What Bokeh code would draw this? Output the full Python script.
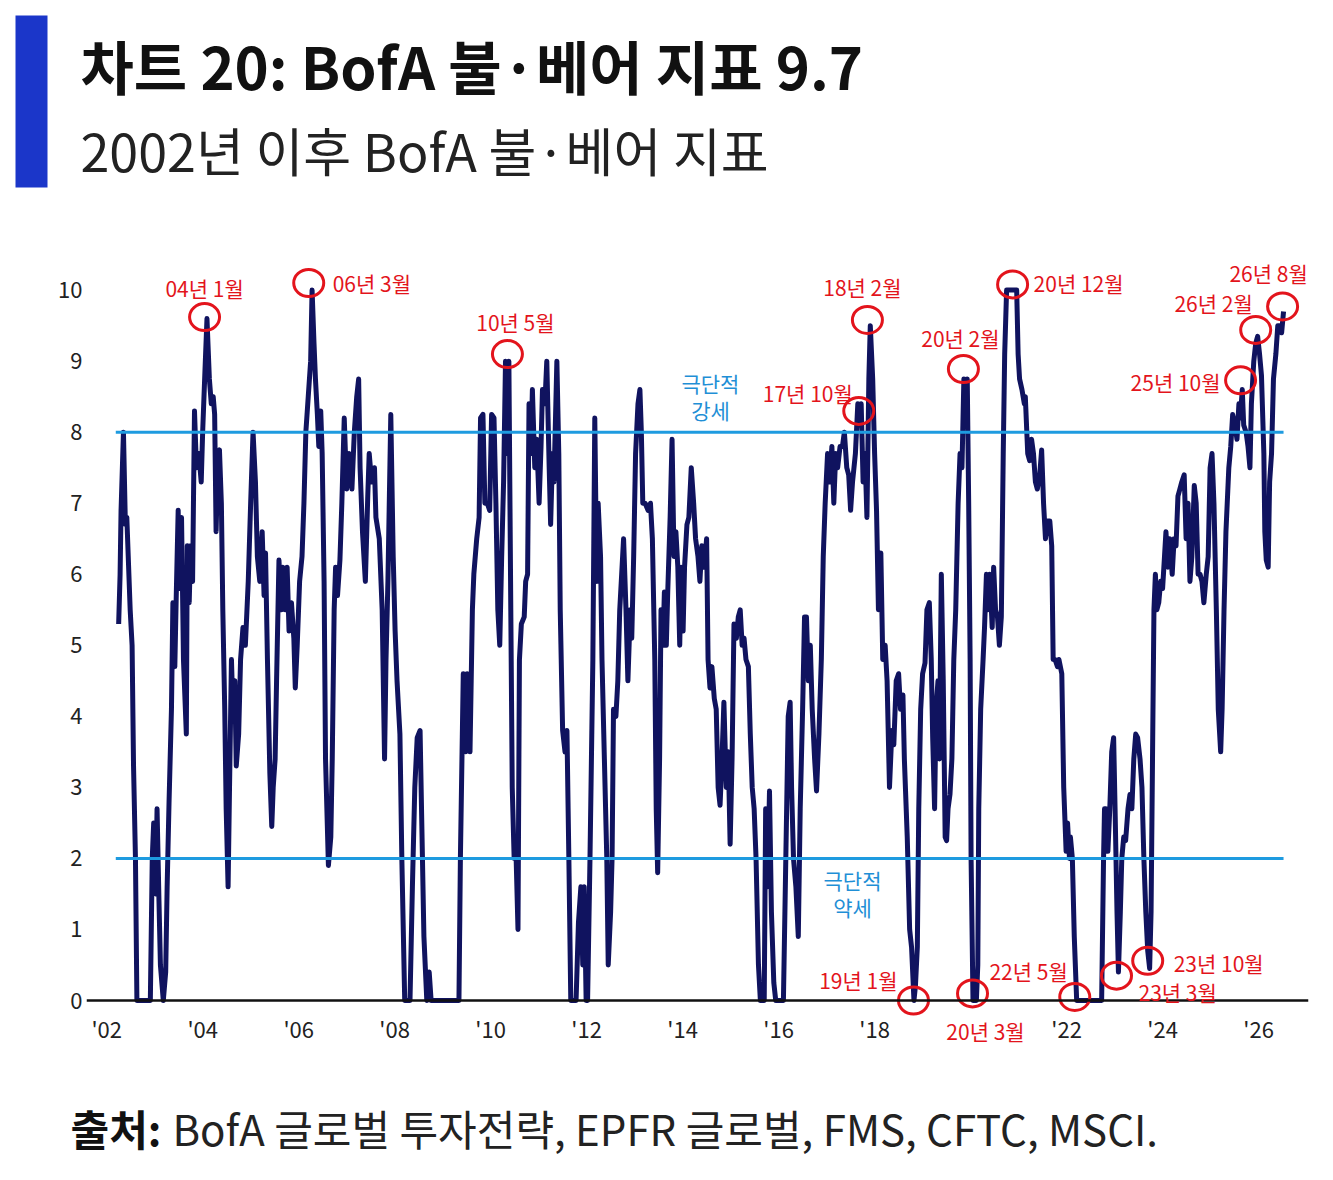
from bokeh.plotting import figure
from bokeh.layouts import column
from bokeh.models import ColumnDataSource, Range1d, FixedTicker, LabelSet, Span
from bokeh.core.properties import value, field
from bokeh.embed import file_html
from bokeh.resources import INLINE

# BofA 불·베어 지표 (읽어낸 값, 날짜는 연 단위 소수)
dates = [
    2002.25, 2002.28, 2002.30, 2002.35, 2002.39, 2002.42, 2002.49, 2002.53, 2002.56, 2002.60,
    2002.63, 2002.91, 2002.95, 2002.98, 2003.02, 2003.05, 2003.09, 2003.12, 2003.18, 2003.23,
    2003.26, 2003.30, 2003.35, 2003.38, 2003.42, 2003.45, 2003.49, 2003.52, 2003.56, 2003.60,
    2003.66, 2003.68, 2003.72, 2003.75, 2003.79, 2003.83, 2003.87, 2003.92, 2003.97, 2004.00,
    2004.05, 2004.09, 2004.14, 2004.18, 2004.22, 2004.25, 2004.28, 2004.32, 2004.35, 2004.39,
    2004.42, 2004.46, 2004.49, 2004.53, 2004.56, 2004.60, 2004.63, 2004.67, 2004.70, 2004.75,
    2004.79, 2004.84, 2004.89, 2004.95, 2005.00, 2005.05, 2005.10, 2005.14, 2005.19, 2005.24,
    2005.28, 2005.31, 2005.35, 2005.40, 2005.44, 2005.47, 2005.51, 2005.54, 2005.59, 2005.64,
    2005.67, 2005.72, 2005.76, 2005.80, 2005.85, 2005.90, 2005.93, 2005.97, 2006.02, 2006.07,
    2006.11, 2006.15, 2006.20, 2006.25, 2006.28, 2006.32, 2006.35, 2006.39, 2006.42, 2006.46,
    2006.49, 2006.53, 2006.56, 2006.62, 2006.67, 2006.70, 2006.74, 2006.77, 2006.81, 2006.86,
    2006.90, 2006.95, 2007.00, 2007.05, 2007.11, 2007.16, 2007.21, 2007.25, 2007.28, 2007.33,
    2007.39, 2007.44, 2007.47, 2007.52, 2007.58, 2007.61, 2007.68, 2007.74, 2007.79, 2007.82,
    2007.86, 2007.92, 2007.97, 2008.01, 2008.05, 2008.11, 2008.15, 2008.21, 2008.32, 2008.37,
    2008.42, 2008.47, 2008.53, 2008.56, 2008.61, 2008.67, 2008.72, 2008.76,
    2009.34, 2009.37, 2009.43, 2009.48, 2009.51, 2009.57, 2009.62, 2009.65, 2009.71, 2009.76,
    2009.79, 2009.84, 2009.88, 2009.93, 2009.98, 2010.02, 2010.07, 2010.11, 2010.15, 2010.19,
    2010.23, 2010.27, 2010.31, 2010.35, 2010.38, 2010.42, 2010.45, 2010.49, 2010.52, 2010.57,
    2010.60, 2010.64, 2010.70, 2010.73, 2010.77, 2010.80, 2010.84, 2010.87, 2010.92, 2010.96,
    2011.01, 2011.05, 2011.08, 2011.13, 2011.17, 2011.22, 2011.25, 2011.29, 2011.32, 2011.38,
    2011.42, 2011.45, 2011.50, 2011.55, 2011.59, 2011.63, 2011.67, 2011.78, 2011.83, 2011.88,
    2011.92, 2011.95, 2011.99, 2012.02, 2012.07, 2012.13, 2012.17, 2012.21, 2012.24, 2012.29,
    2012.32, 2012.37, 2012.42, 2012.45, 2012.50, 2012.53, 2012.56, 2012.61, 2012.65, 2012.69,
    2012.73, 2012.77, 2012.82, 2012.86, 2012.91, 2012.94, 2012.98, 2013.02, 2013.07, 2013.11,
    2013.14, 2013.17, 2013.22, 2013.28, 2013.33, 2013.37, 2013.42, 2013.45, 2013.48, 2013.52,
    2013.55, 2013.59, 2013.62, 2013.66, 2013.69, 2013.74, 2013.78, 2013.82, 2013.86, 2013.90,
    2013.94, 2013.97, 2014.01, 2014.04, 2014.09, 2014.13, 2014.18, 2014.23, 2014.27, 2014.32,
    2014.36, 2014.40, 2014.45, 2014.50, 2014.53, 2014.57, 2014.61, 2014.66, 2014.70, 2014.74,
    2014.78, 2014.82, 2014.86, 2014.91, 2014.95, 2014.99, 2015.03, 2015.07, 2015.12, 2015.16,
    2015.20, 2015.24, 2015.28, 2015.32, 2015.37, 2015.41, 2015.45, 2015.49, 2015.53, 2015.58,
    2015.62, 2015.70, 2015.73, 2015.77, 2015.81, 2015.85, 2015.90, 2015.94, 2016.10, 2016.15,
    2016.20, 2016.24, 2016.27, 2016.31, 2016.36, 2016.41, 2016.45, 2016.50, 2016.54, 2016.58,
    2016.62, 2016.66, 2016.70, 2016.75, 2016.79, 2016.84, 2016.89, 2016.93, 2016.97, 2017.02,
    2017.06, 2017.11, 2017.15, 2017.19, 2017.23, 2017.28, 2017.33, 2017.37, 2017.42, 2017.46,
    2017.50, 2017.54, 2017.60, 2017.65, 2017.69, 2017.72, 2017.76, 2017.80, 2017.84, 2017.88,
    2017.91, 2017.96, 2018.00, 2018.04, 2018.08,
    2018.13, 2018.17, 2018.22, 2018.26, 2018.31, 2018.36, 2018.40, 2018.45, 2018.50, 2018.54,
    2018.59, 2018.62, 2018.68, 2018.73, 2018.77, 2018.82, 2018.85, 2018.89, 2018.92, 2018.96,
    2019.00, 2019.05, 2019.09, 2019.14, 2019.18, 2019.21, 2019.25, 2019.28, 2019.32, 2019.35,
    2019.39, 2019.43, 2019.47, 2019.50, 2019.53, 2019.57, 2019.61, 2019.65, 2019.69, 2019.74,
    2019.78, 2019.82, 2019.86, 2019.90, 2019.93, 2019.96, 2019.99, 2020.01, 2020.05, 2020.12,
    2020.15, 2020.17, 2020.21, 2020.26, 2020.29, 2020.33, 2020.36, 2020.40, 2020.45, 2020.48,
    2020.52, 2020.56, 2020.60, 2020.64, 2020.68, 2020.71, 2020.75, 2020.85, 2020.92, 2020.96,
    2020.99, 2021.02, 2021.07, 2021.12, 2021.14, 2021.19, 2021.23, 2021.27, 2021.31, 2021.35,
    2021.39, 2021.44, 2021.48, 2021.52, 2021.56, 2021.60, 2021.65, 2021.69, 2021.72, 2021.76,
    2021.81, 2021.84, 2021.90, 2021.94, 2021.99, 2022.02, 2022.06, 2022.08, 2022.12, 2022.16,
    2022.21, 2022.73, 2022.77, 2022.79, 2022.82, 2022.86, 2022.90, 2022.94, 2022.98, 2023.01,
    2023.05, 2023.08, 2023.12, 2023.15, 2023.19, 2023.23, 2023.28, 2023.32, 2023.36, 2023.40,
    2023.44, 2023.48, 2023.53, 2023.57, 2023.61, 2023.65, 2023.69, 2023.73, 2023.76, 2023.79,
    2023.82, 2023.85, 2023.88, 2023.92, 2023.96, 2024.00, 2024.04, 2024.07, 2024.11, 2024.15,
    2024.20, 2024.24, 2024.28, 2024.32, 2024.36, 2024.40, 2024.45, 2024.49, 2024.53, 2024.57,
    2024.61, 2024.66, 2024.70, 2024.74, 2024.78, 2024.82, 2024.86, 2024.91, 2024.95, 2024.99,
    2025.03, 2025.07, 2025.12, 2025.16, 2025.21, 2025.24, 2025.28, 2025.32, 2025.38, 2025.42,
    2025.46, 2025.51, 2025.55, 2025.59, 2025.62, 2025.66, 2025.69, 2025.74, 2025.78, 2025.82,
    2025.85, 2025.90, 2025.94, 2025.98, 2026.02, 2026.06, 2026.11, 2026.13, 2026.16, 2026.20,
    2026.23, 2026.27, 2026.31, 2026.36, 2026.40, 2026.44, 2026.48, 2026.52,
]
bull_bear = [
    5.3, 6.0, 6.9, 8.0, 6.7, 6.8, 5.5, 5.0, 3.3, 2.0,
    0.0, 0.0, 2.0, 2.5, 1.5, 2.7, 1.4, 0.5, 0.0, 0.4,
    1.6, 2.8, 4.1, 5.6, 4.7, 5.7, 6.9, 5.8, 6.8, 4.8,
    3.75, 6.4, 5.6, 6.4, 5.9, 8.3, 7.5, 7.7, 7.3, 8.0,
    8.9, 9.6, 8.75, 8.4, 8.5, 8.25, 6.6, 7.7, 7.75, 7.0,
    5.5, 4.1, 2.7, 1.6, 3.0, 4.8, 4.1, 4.5, 3.3, 3.75,
    4.8, 5.25, 5.0, 5.9, 7.0, 8.0, 7.3, 6.25, 5.9, 6.6,
    5.7, 6.3, 4.8, 3.2, 2.45, 3.0, 3.4, 4.5, 6.2, 5.5,
    6.1, 5.5, 6.1, 5.2, 5.6, 5.1, 4.4, 5.0, 5.9, 6.25,
    7.0, 8.0, 8.5, 9.0, 10.0, 9.25, 8.75, 8.25, 7.8, 8.3,
    7.7, 5.9, 3.4, 1.9, 2.3, 3.4, 5.5, 6.1, 5.7, 6.2,
    7.0, 8.2, 7.2, 7.7, 7.2, 8.0, 8.5, 8.75, 7.5, 6.6,
    5.9, 7.1, 7.7, 7.3, 7.5, 6.8, 6.5, 5.5, 3.4, 4.8,
    5.9, 8.25, 6.25, 5.2, 4.5, 3.75, 2.0, 0.0, 0.0, 1.6,
    3.0, 3.7, 3.8, 2.7, 0.9, 0.0, 0.4, 0.0,
    0.0, 2.0, 4.6, 3.5, 4.6, 3.5, 5.5, 6.0, 6.5, 6.8,
    8.2, 8.25, 7.0, 7.0, 6.9, 8.25, 8.2, 7.0, 5.5, 5.0,
    6.25, 7.3, 9.0, 7.7, 9.0, 5.5, 3.0, 2.0, 2.3, 1.0,
    4.8, 5.3, 5.4, 5.9, 6.0, 8.4, 7.7, 8.6, 7.5, 7.9,
    7.0, 7.8, 8.6, 8.4, 9.0, 7.5, 6.7, 7.7, 7.3, 9.0,
    7.7, 5.5, 3.8, 3.5, 3.8, 2.0, 0.0, 0.0, 1.1, 1.6,
    0.5, 1.6, 0.0, 0.0, 2.0, 4.8, 8.2, 5.9, 7.0, 6.25,
    4.8, 3.4, 2.0, 0.5, 1.25, 2.0, 4.1, 4.0, 4.5, 5.5,
    6.0, 6.5, 5.5, 4.5, 5.5, 5.1, 6.25, 7.7, 8.4, 8.6,
    8.0, 7.0, 7.0, 6.9, 7.0, 6.5, 4.8, 2.7, 1.8, 3.4,
    5.5, 5.0, 5.75, 5.0, 5.75, 6.8, 7.9, 6.25, 6.6, 6.1,
    5.0, 6.1, 5.2, 6.1, 6.7, 6.8, 7.5, 7.0, 6.5, 6.25,
    5.9, 6.4, 6.1, 6.5, 4.8, 4.4, 4.7, 4.25, 4.1, 3.0,
    2.75, 3.4, 4.2, 3.0, 3.5, 2.2, 3.4, 5.3, 5.1, 5.4,
    5.5, 5.0, 5.1, 4.8, 4.7, 3.75, 3.0, 2.7, 2.0, 0.5,
    0.0, 0.0, 2.7, 1.6, 2.95, 1.25, 0.25, 0.0, 0.0, 2.0,
    4.0, 4.2, 3.0, 2.0, 1.6, 0.9, 2.7, 4.1, 5.4, 5.4,
    4.5, 5.0, 4.1, 3.4, 2.95, 3.75, 4.8, 6.25, 7.0, 7.7,
    7.3, 7.8, 7.0, 7.7, 7.5, 7.8, 7.8, 8.0, 7.5, 7.4,
    6.9, 7.3, 7.7, 8.4, 8.1, 8.4, 7.3, 7.7, 6.8, 8.75,
    9.5, 8.75, 7.7, 6.9, 5.5,
    6.3, 4.8, 5.0, 4.5, 3.0, 3.8, 3.6, 4.5, 4.6, 4.1,
    4.3, 3.4, 2.3, 1.0, 0.75, 0.0, 0.2, 0.75, 2.7, 4.1,
    4.6, 4.75, 5.5, 5.6, 4.8, 3.7, 2.7, 4.1, 4.5, 3.4,
    6.0, 4.5, 2.3, 2.25, 2.7, 2.9, 3.4, 4.8, 5.5, 7.0,
    7.7, 7.5, 8.75, 8.2, 8.75, 7.0, 4.8, 2.0, 0.0, 0.0,
    0.5, 2.7, 4.1, 4.8, 5.25, 6.0, 5.5, 6.0, 5.25, 6.1,
    5.5, 5.4, 5.0, 5.4, 7.7, 9.1, 10.0, 10.0, 10.0, 10.0,
    9.1, 8.75, 8.6, 8.4, 8.5, 7.7, 7.6, 7.9, 7.7, 7.3,
    7.2, 7.4, 7.75, 7.0, 6.5, 6.75, 6.75, 6.4, 4.8, 4.8,
    4.7, 4.8, 4.6, 3.0, 2.1, 2.5, 2.0, 2.3, 2.0, 0.9,
    0.0, 0.0, 2.0, 2.7, 2.7, 2.1, 2.7, 3.5, 3.7, 2.7,
    1.25, 0.4, 1.25, 2.0, 2.3, 2.25, 2.7, 2.9, 2.7, 3.4,
    3.75, 3.7, 3.4, 3.0, 2.0, 1.25, 0.7, 0.45, 1.25, 3.4,
    5.5, 6.0, 5.5, 5.6, 5.9, 5.8, 6.25, 6.6, 6.1, 6.5,
    6.0, 6.5, 6.4, 7.1, 7.2, 7.3, 7.4, 6.5, 7.0, 5.9,
    6.25, 7.25, 7.0, 6.0, 6.0, 5.9, 5.6, 6.0, 6.25, 7.5,
    7.7, 7.0, 5.5, 4.1, 3.5, 4.1, 5.5, 6.6, 7.5, 7.8,
    8.25, 8.1, 7.9, 8.4, 8.2, 8.6, 8.1, 8.0, 7.8, 7.5,
    8.4, 9.0, 9.25, 9.35, 9.1, 8.8, 7.7, 6.6, 6.2, 6.1,
    7.3, 7.7, 8.75, 9.1, 9.5, 9.5, 9.4, 9.7,
]

thresholds = [8, 2]
threshold_dates = [2014.58, 2017.54]
threshold_values = [8.5, 1.5]
threshold_labels = ["극단적\n강세", "극단적\n약세"]

year_ticks = list(range(2002, 2027, 2))
year_labels = ["'02", "'04", "'06", "'08", "'10", "'12", "'14", "'16", "'18", "", "'22", "'24", "'26"]

ann_dates = [2004.04, 2006.21, 2010.35, 2017.67, 2017.85, 2018.81, 2019.85, 2020.04,
             2020.875, 2022.17, 2023.04, 2023.69, 2025.625, 2025.94, 2026.5]
ann_values = [9.62, 10.1, 9.1, 8.3, 9.58, 0.0, 8.89, 0.1,
              10.08, 0.05, 0.35, 0.56, 8.73, 9.44, 9.77]
ann_labels = ["04년 1월", "06년 3월", "10년 5월", "17년 10월", "18년 2월", "19년 1월", "20년 2월", "20년 3월",
              "20년 12월", "22년 5월", "23년 3월", "23년 10월", "25년 10월", "26년 2월", "26년 8월"]
# 라벨 위치 (원 중심에서 화면 픽셀, 오른쪽/위쪽이 +)
ann_dx = [0, 24, 8, -6, -5, -16, -3, 13, 21, -7, 22, 26, -20, -3, -14]
ann_dy = [29, 0, 32, 18, 33, 21, 31, -38, 1, 26, -16, -2, -2, 27, 33]
ann_align = ["center", "left", "center", "right", "center", "right", "center", "center",
             "left", "right", "left", "left", "right", "right", "center"]

title = "차트 20: BofA 불·베어 지표 9.7"
subtitle = "2002년 이후 BofA 불·베어 지표"
source_head = "출처:"
source_body = "BofA 글로벌 투자전략, EPFR 글로벌, FMS, CFTC, MSCI."

NAVY = "#10135f"
SKY = "#1e9be0"
SKY_TEXT = "#1f8fd6"
RED = "#e3141c"
BAR = "#1b36c9"
FONT = "Noto Sans CJK KR"
W = 1317


def blank(height):
    f = figure(width=W, height=height, output_backend="svg", toolbar_location=None,
               x_range=Range1d(0, W), y_range=Range1d(0, height),
               min_border=0, outline_line_color=None, frame_align=False)
    f.axis.visible = False
    f.grid.visible = False
    return f


# 제목 영역
head = blank(208)
head.quad(left=[15], right=[47], top=[193], bottom=[21], fill_color=BAR, line_color=None)
head.text([80], [144], text=[title], text_font=value(FONT), text_font_size="58px",
          text_font_style="bold", text_color="#111111", text_baseline="middle")
head.text([80], [59], text=[subtitle], text_font=value(FONT), text_font_size="52px",
          text_color="#222222", text_baseline="middle")

# 본 차트 (프레임을 0 아래로 조금 넓혀 아래쪽 표시가 잘리지 않게 함)
p = figure(width=W, height=856, output_backend="svg", toolbar_location=None,
           x_range=Range1d(2001.58, 2027.04), y_range=Range1d(-0.6475, 10.6),
           min_border_left=86, min_border_right=9, min_border_top=39, min_border_bottom=18,
           frame_align=False)
p.outline_line_color = None
p.xgrid.grid_line_color = None
p.ygrid.grid_line_color = None

p.xaxis.ticker = FixedTicker(ticks=year_ticks)
p.xaxis.major_label_overrides = {t: s for t, s in zip(year_ticks, year_labels)}
p.xaxis.axis_line_color = None
p.xaxis.major_tick_line_color = None
p.xaxis.minor_tick_line_color = None
p.xaxis.major_tick_out = 0
p.xaxis.major_tick_in = 0
p.xaxis.major_label_text_font = FONT
p.xaxis.major_label_text_font_size = "22px"
p.xaxis.major_label_text_color = "#222222"
p.xaxis.major_label_standoff = -35

p.yaxis.ticker = FixedTicker(ticks=list(range(0, 11)))
p.yaxis.axis_line_color = None
p.yaxis.major_tick_line_color = None
p.yaxis.minor_tick_line_color = None
p.yaxis.major_tick_out = 0
p.yaxis.major_tick_in = 0
p.yaxis.major_label_text_font = FONT
p.yaxis.major_label_text_font_size = "22px"
p.yaxis.major_label_text_color = "#222222"
p.yaxis.major_label_standoff = 4

p.line(dates, bull_bear, line_color=NAVY, line_width=5, line_join="round")
p.add_layout(Span(location=0, dimension="width", line_color="#111111", line_width=2.5))

for t in thresholds:
    p.line([dates[0] - 0.06, dates[-1]], [t, t], line_color=SKY, line_width=3)

p.text(threshold_dates, threshold_values, text=threshold_labels, text_color=SKY_TEXT,
       text_font=value(FONT), text_font_size="21px", text_align="center",
       text_baseline="middle", text_line_height=0.9)

src = ColumnDataSource(dict(x=ann_dates, y=ann_values, label=ann_labels,
                            dx=ann_dx, dy=ann_dy, align=ann_align))
p.ellipse("x", "y", width=30, height=27, width_units="screen", height_units="screen",
          source=src, fill_color=None, line_color=RED, line_width=3)
p.add_layout(LabelSet(x="x", y="y", text="label", x_offset="dx", y_offset="dy",
                      text_align=field("align"), text_baseline="middle", source=src,
                      text_color=RED, text_font=value(FONT), text_font_size="21px"))

# 출처
foot = blank(100)
foot.text([70], [37], text=[source_head], text_font=value(FONT), text_font_size="42px",
          text_font_style="bold", text_color="#111111", text_baseline="middle")
foot.text([172], [37], text=[source_body], text_font=value(FONT), text_font_size="42px",
          text_color="#222222", text_baseline="middle")

layout = column(head, p, foot, spacing=0)
open("out.html", "w").write(file_html(layout, INLINE))
